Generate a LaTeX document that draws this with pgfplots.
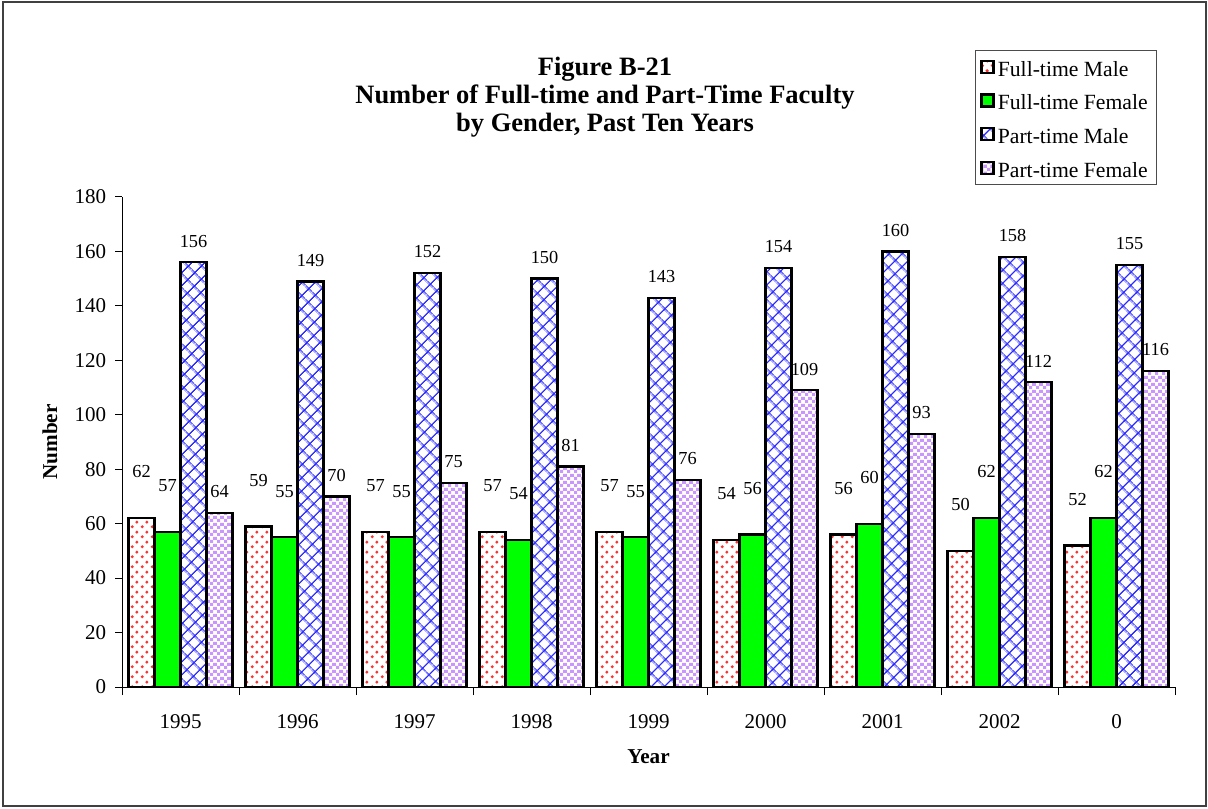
\documentclass[border=0pt]{standalone}
\usepackage{fontspec}
\setmainfont{Liberation Serif}
\usepackage{pgfplots}
\pgfplotsset{compat=1.18}
\usetikzlibrary{patterns.meta}

\definecolor{fgreen}{RGB}{0,255,0}
\definecolor{fpurple}{RGB}{200,150,252}
\definecolor{fblue}{RGB}{40,40,255}
\definecolor{fred}{RGB}{255,50,50}

\pgfdeclarepattern{
  name=reddots, type=colored,
  bottom left={\pgfpointorigin}, top right={\pgfpoint{6pt}{6pt}},
  tile size={\pgfpoint{6pt}{6pt}},
  code={
    \pgfsetfillcolor{fred}
    \pgfpathcircle{\pgfpoint{1.5pt}{1.5pt}}{1.1pt}
    \pgfpathcircle{\pgfpoint{4.5pt}{4.5pt}}{1.1pt}
    \pgfusepath{fill}
  }
}
\pgfdeclarepattern{
  name=bluehatch, type=colored,
  bottom left={\pgfpointorigin}, top right={\pgfpoint{5.6pt}{5.6pt}},
  tile size={\pgfpoint{5.6pt}{5.6pt}},
  tile transformation={\pgftransformrotate{45}},
  code={
    \pgfsetstrokecolor{fblue}
    \pgfsetlinewidth{0.9pt}
    \pgfpathmoveto{\pgfpoint{0pt}{2.8pt}}\pgfpathlineto{\pgfpoint{5.6pt}{2.8pt}}
    \pgfpathmoveto{\pgfpoint{2.8pt}{0pt}}\pgfpathlineto{\pgfpoint{2.8pt}{5.6pt}}
    \pgfusepath{stroke}
  }
}
\pgfdeclarepattern{
  name=purplecheck, type=colored,
  bottom left={\pgfpointorigin}, top right={\pgfpoint{4.2pt}{4.2pt}},
  tile size={\pgfpoint{4.2pt}{4.2pt}},
  code={
    \pgfsetfillcolor{fpurple}
    \pgfpathrectangle{\pgfpoint{0pt}{0pt}}{\pgfpoint{2.1pt}{2.1pt}}
    \pgfpathrectangle{\pgfpoint{2.1pt}{2.1pt}}{\pgfpoint{2.1pt}{2.1pt}}
    \pgfusepath{fill}
  }
}

\begin{document}
\begin{tikzpicture}
\useasboundingbox (0,0) rectangle (724.8pt,484.8pt);
\draw[black!75, line width=1.2pt] (1.5pt,1.5pt) rectangle (723.3pt,483.3pt);
\begin{axis}[
  at={(73.2pt,72.6pt)}, anchor=south west,
  scale only axis, width=631.8pt, height=294pt,
  xmin=-0.5, xmax=8.5, ymin=0, ymax=180,
  axis x line=bottom, axis y line=left,
  axis line style={-, line width=0.6pt},
  clip=false,
  ytick={0,20,...,180},
  xtick={0,...,8},
  xticklabels={1995,1996,1997,1998,1999,2000,2001,2002,0},
  major x tick style={draw=none},
  minor xtick={-0.5,0.5,...,8.5},
  xtick align=center, ytick align=outside,
  major tick length=4.2pt, minor tick length=4.8pt,
  tick style={black, line width=0.6pt},
  ybar=0pt, bar width=15.6pt,
  nodes near coords,
  every node near coord/.append style={font=\fontsize{11}{12}\selectfont, black},
  tick label style={font=\fontsize{12.6}{15}\selectfont},
  /pgf/number format/assume math mode=true,
  xticklabel style={yshift=-9pt},
  yticklabel style={xshift=-1.8pt},
  xlabel={Year}, ylabel={Number},
  every axis y label/.style={at={(axis description cs:-0.0684,0.5)}, rotate=90, anchor=center,
    font=\fontsize{12.7}{15}\selectfont\bfseries},
  every axis x label/.style={at={(axis description cs:0.5,-0.1429)}, anchor=center,
    font=\fontsize{12.7}{15}\selectfont\bfseries},
  title={Figure B-21\\Number of Full-time and Part-Time Faculty\\by Gender, Past Ten Years},
  title style={at={(axis description cs:0.4587,1.1836)}, anchor=center, align=center,
    font=\fontsize{15.9}{16.8}\selectfont\bfseries},
  legend style={at={(0.81,1.30)}, anchor=north west, draw=black!70, line width=0.5pt,
    font=\fontsize{13}{15}\selectfont, row sep=4.5pt, cells={anchor=west},
    nodes={text height=11.4pt, text depth=0.3pt}},
  legend image code/.code={\draw[#1, line width=1.3pt] (0pt,-3.6pt) rectangle (7.2pt,3.6pt);},
]
\addplot[draw=black, line width=1.4pt, pattern=reddots,
  every node near coord/.append style={yshift=20pt}] coordinates
  {(0,62) (1,59) (2,57) (3,57) (4,57) (5,54) (6,56) (7,50) (8,52)};
\addplot[draw=black, line width=1.4pt, fill=fgreen,
  every node near coord/.append style={yshift=20pt}] coordinates
  {(0,57) (1,55) (2,55) (3,54) (4,55) (5,56) (6,60) (7,62) (8,62)};
\addplot[draw=black, line width=1.4pt, pattern=bluehatch,
  every node near coord/.append style={yshift=5pt}] coordinates
  {(0,156) (1,149) (2,152) (3,150) (4,143) (5,154) (6,160) (7,158) (8,155)};
\addplot[draw=black, line width=1.4pt, pattern=purplecheck,
  every node near coord/.append style={yshift=5pt}] coordinates
  {(0,64) (1,70) (2,75) (3,81) (4,76) (5,109) (6,93) (7,112) (8,116)};
\legend{Full-time Male, Full-time Female, Part-time Male, Part-time Female}
\end{axis}
\end{tikzpicture}
\end{document}
